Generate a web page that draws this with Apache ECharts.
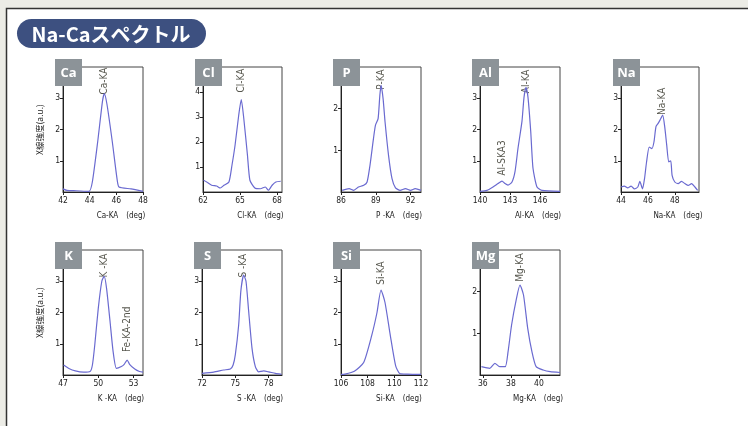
<!DOCTYPE html>
<html>
<head>
<meta charset="utf-8">
<script src="https://cdn.jsdelivr.net/npm/echarts@6/dist/echarts.min.js"></script>
<style>
html,body{margin:0;padding:0;background:#ecece6;}
#chart{width:748px;height:426px;}
</style>
</head>
<body>
<div id="chart"></div>
<script>
// スペクトルデータ
var caX = [42, 42.3, 43.0, 43.95, 44.2, 44.6, 44.96, 45.1, 45.3, 45.7, 46.05, 46.2, 47.1, 48];
var caY = [0.1, 0.05, 0.04, 0.02, 0.32, 1.6, 2.9, 3.15, 2.8, 1.6, 0.43, 0.16, 0.1, 0.02];

var clX = [62.05, 62.3, 62.7, 63.1, 63.4, 63.7, 64.1, 64.35, 64.6, 64.9, 65.1, 65.3, 65.6, 65.8, 66.2, 66.65, 67.05, 67.3, 67.6, 67.9, 68.3];
var clY = [0.47, 0.40, 0.27, 0.24, 0.16, 0.27, 0.40, 1.08, 1.88, 3.1, 3.7, 2.96, 1.48, 0.47, 0.16, 0.13, 0.2, 0.07, 0.27, 0.4, 0.43];

var pX = [86.1, 86.7, 87.1, 87.5, 87.96, 88.25, 88.5, 88.8, 88.97, 89.2, 89.35, 89.46, 89.63, 89.8, 90.1, 90.4, 90.7, 91.1, 91.56, 92, 92.4, 92.9];
var pY = [0.04, 0.08, 0.04, 0.12, 0.16, 0.24, 0.64, 1.28, 1.6, 1.76, 2.32, 2.56, 2.24, 1.68, 0.88, 0.32, 0.1, 0.04, 0.08, 0.04, 0.08, 0.04];

var alX = [140, 140.7, 141.3, 141.8, 142.2, 142.5, 142.8, 143.2, 143.5, 143.8, 144.2, 144.4, 144.6, 144.8, 145.07, 145.3, 145.7, 146.2, 148];
var alY = [0.02, 0.05, 0.16, 0.27, 0.35, 0.27, 0.22, 0.32, 0.65, 1.4, 2.27, 3.03, 3.35, 3.03, 1.95, 0.76, 0.16, 0.05, 0.02];

var naX = [44, 44.25, 44.5, 44.75, 45, 45.25, 45.4, 45.6, 45.75, 45.9, 46.1, 46.3, 46.45, 46.6, 46.75, 46.9, 47.1, 47.25, 47.4, 47.55, 47.7, 47.8, 48, 48.25, 48.5, 48.75, 49, 49.25, 49.5, 49.7];
var naY = [0.16, 0.19, 0.13, 0.19, 0.1, 0.16, 0.34, 0.1, 0.43, 0.96, 1.44, 1.39, 1.6, 2.09, 2.19, 2.3, 2.46, 2.09, 1.5, 0.96, 1.0, 0.53, 0.32, 0.27, 0.34, 0.27, 0.21, 0.27, 0.16, 0.05];

var kX = [47.05, 47.5, 48.05, 48.75, 49.3, 49.5, 49.7, 50, 50.3, 50.5, 50.7, 51, 51.26, 51.54, 51.96, 52.2, 52.45, 52.66, 53.1, 53.5, 53.8];
var kY = [0.32, 0.21, 0.13, 0.09, 0.11, 0.32, 0.96, 2.14, 3.0, 3.16, 2.78, 1.71, 0.75, 0.21, 0.27, 0.34, 0.48, 0.34, 0.19, 0.11, 0.09];

var sX = [72, 73.05, 73.95, 74.55, 74.8, 75, 75.3, 75.5, 75.75, 75.96, 76.2, 76.5, 76.8, 77.1, 77.55, 78, 78.6, 79.15];
var sY = [0.05, 0.09, 0.16, 0.19, 0.32, 0.65, 1.6, 2.7, 3.2, 3.0, 2.04, 0.86, 0.27, 0.1, 0.13, 0.1, 0.05, 0.02];

var siX = [106, 106.3, 107, 107.7, 108.3, 108.7, 109, 109.3, 109.7, 110.1, 110.4, 111, 112];
var siY = [0.02, 0.03, 0.12, 0.4, 1.26, 2.0, 2.72, 2.32, 1.26, 0.29, 0.05, 0.03, 0.02];

var mgX = [35.9, 36.5, 36.86, 37.2, 37.6, 37.8, 38.05, 38.4, 38.65, 38.9, 39.2, 39.5, 39.8, 40.3, 40.8, 41.5];
var mgY = [0.2, 0.16, 0.28, 0.2, 0.2, 0.56, 1.2, 1.84, 2.16, 1.92, 1.12, 0.56, 0.2, 0.12, 0.08, 0.06];

// 元素名
var elements = ['Ca', 'Cl', 'P', 'Al', 'Na', 'K', 'S', 'Si', 'Mg'];
// x軸名
var xNames = ['Ca-KA　(deg)', 'Cl-KA　(deg)', 'P -KA　(deg)', 'Al-KA　(deg)', 'Na-KA　(deg)',
              'K -KA　(deg)', 'S -KA　(deg)', 'Si-KA　(deg)', 'Mg-KA　(deg)'];
// x軸範囲と目盛
var xRanges = [[42, 48], [62, 68.4], [86, 92.9], [140, 148], [44, 49.8], [47, 53.8], [72, 79.2], [106, 112], [35.8, 41.5]];
var xTicks = [[42, 44, 46, 48], [62, 65, 68], [86, 89, 92], [140, 143, 146], [44, 46, 48], [47, 50, 53], [72, 75, 78], [106, 108, 110, 112], [36, 38, 40]];
// y軸上限と目盛
var yMax = [4, 5, 3, 4, 4, 4, 4, 4, 3];
var yTicks = [[1, 2, 3], [1, 2, 3, 4], [1, 2], [1, 2, 3], [1, 2, 3], [1, 2, 3], [1, 2, 3], [1, 2, 3], [1, 2]];
// ピーク名 [x, y, 名前]
var peaks = [
	[[45.1, 3.55, 'Ca-KA']],
	[[65.1, 4.46, 'Cl-KA']],
	[[89.45, 2.7, 'P-KA']],
	[[144.6, 3.54, 'Al-KA'], [142.2, 1.09, 'Al-SKA3']],
	[[47.05, 2.9, 'Na-KA']],
	[[50.5, 3.5, 'K -KA'], [52.45, 1.46, 'Fe-KA-2nd']],
	[[75.75, 3.5, 'S -KA']],
	[[109.0, 3.26, 'Si-KA']],
	[[38.65, 2.58, 'Mg-KA']]
];
var seriesX = [caX, clX, pX, alX, naX, kX, sX, siX, mgX];
var seriesY = [caY, clY, pY, alY, naY, kY, sY, siY, mgY];

// レイアウト
var gridLeft = [63, 203, 341, 480, 621, 63, 202, 341, 480];
var gridWidth = [80, 79, 80, 80, 78, 80, 80, 80, 80];
var gridTop = [67, 67, 67, 67, 67, 250, 250, 250, 250];
var gridH = 125;

var chart = echarts.init(document.getElementById('chart'));
var smallFont = 'Liberation Sans Narrow, DejaVu Sans Condensed, sans-serif';

var grids = [], xAxes = [], yAxes = [], series = [];
var graphics = [
	{type: 'rect', z: -10, shape: {x: 0, y: 0, width: 748, height: 426}, style: {fill: '#ecece6'}},
	{type: 'rect', z: -9, shape: {x: 6.5, y: 8.5, width: 760, height: 430}, style: {fill: '#fff', stroke: '#333', lineWidth: 1.5}},
	{type: 'rect', z: 10, shape: {x: 17, y: 19, width: 189, height: 29, r: 14.5}, style: {fill: '#3d5080'}},
	{type: 'text', z: 11, x: 111, y: 34, style: {text: 'Na-Caスペクトル', fill: '#fff', font: 'bold 20px "Noto Sans CJK JP", sans-serif', align: 'center', verticalAlign: 'middle'}}
];

for (var i = 0; i < elements.length; i++) {
	grids.push({left: gridLeft[i], top: gridTop[i], width: gridWidth[i], height: gridH,
		show: true, borderColor: '#444', borderWidth: 1, backgroundColor: 'transparent'});
	xAxes.push({
		type: 'value', gridIndex: i, min: xRanges[i][0], max: xRanges[i][1],
		axisLine: {show: true, onZero: false, lineStyle: {color: '#222', width: 1}},
		axisTick: {show: true, length: 3, customValues: xTicks[i], lineStyle: {color: '#222'}},
		axisLabel: {customValues: xTicks[i], fontSize: 8.5, color: '#222', margin: 4, fontFamily: smallFont},
		splitLine: {show: false},
		name: xNames[i], nameLocation: 'middle', nameGap: 20,
		nameTextStyle: {fontSize: 8, color: '#222', fontFamily: smallFont, padding: [0, 0, 0, 36]}
	});
	var ya = {
		type: 'value', gridIndex: i, min: 0, max: yMax[i],
		axisLine: {show: true, lineStyle: {color: '#222', width: 1}},
		axisTick: {show: true, length: 3, customValues: yTicks[i], lineStyle: {color: '#222'}},
		axisLabel: {customValues: yTicks[i], fontSize: 8.5, color: '#222', margin: 3, fontFamily: smallFont},
		splitLine: {show: false}
	};
	if (i == 0 || i == 5) {
		ya.name = 'X線強度(a.u.)';
		ya.nameLocation = 'middle';
		ya.nameGap = 19;
		ya.nameRotate = 90;
		ya.nameTextStyle = {fontSize: 8.5, color: '#222', fontFamily: '"Noto Sans CJK JP", sans-serif'};
	}
	yAxes.push(ya);

	var pts = [];
	for (var j = 0; j < seriesX[i].length; j++) pts.push([seriesX[i][j], seriesY[i][j]]);
	series.push({
		type: 'line', xAxisIndex: i, yAxisIndex: i, data: pts, symbol: 'none', smooth: 0.2,
		lineStyle: {color: '#6a6ad0', width: 1.2}, silent: true
	});
	series.push({
		type: 'scatter', xAxisIndex: i, yAxisIndex: i, data: peaks[i], symbolSize: 0, silent: true,
		label: {show: true, position: 'inside', rotate: 90, fontSize: 10, color: '#2c2c20', fontFamily: smallFont,
			formatter: function(p){ return p.value[2]; }}
	});

	// 元素ラベル（灰色の四角）
	graphics.push({type: 'rect', z: 10, shape: {x: gridLeft[i] - 8, y: gridTop[i] - 8, width: 27, height: 27}, style: {fill: '#8c9398'}});
	graphics.push({type: 'text', z: 11, x: gridLeft[i] - 8 + 13.5, y: gridTop[i] - 8 + 14,
		style: {text: elements[i], fill: '#fff', font: 'bold 13px "Open Sans", sans-serif', align: 'center', verticalAlign: 'middle'}});
}

chart.setOption({
	animation: false,
	grid: grids,
	xAxis: xAxes,
	yAxis: yAxes,
	series: series,
	graphic: graphics
});
</script>
</body>
</html>
